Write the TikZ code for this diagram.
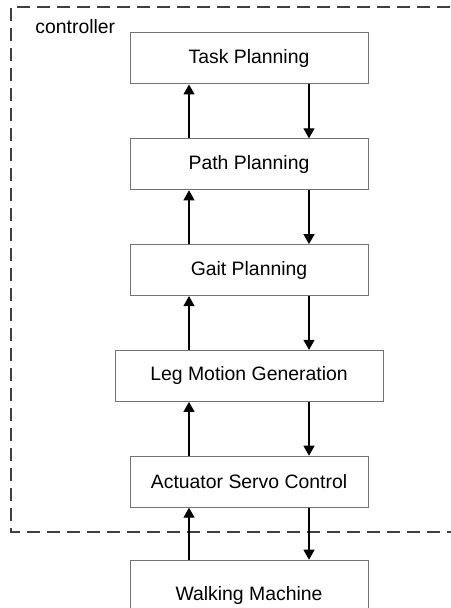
\documentclass[tikz,border=0pt]{standalone}
\usepackage{fontspec}
\setmainfont{Liberation Sans}
\usetikzlibrary{arrows.meta,positioning}
\tikzset{
  cbox/.style={draw=black!55, line width=0.5pt, align=center, minimum width=119pt, minimum height=25.5pt, inner sep=0pt, fill=white, font=\fontsize{9.7}{11}\selectfont},
  cboxwide/.style={cbox, minimum width=134pt},
  cboxtall/.style={cbox, minimum height=35pt},
  cnote/.style={font=\fontsize{9.7}{11}\selectfont, inner sep=0pt, anchor=west},
  carrow/.style={-{Triangle[length=5pt,width=5.5pt]}, line width=0.55pt, black},
  cframe/.style={line width=0.75pt, dash pattern=on 6.5pt off 3.5pt, black!75}
}

\begin{document}
\begin{tikzpicture}[x=0.5pt, y=-0.5pt]
\useasboundingbox (0,0) rectangle (450,608);
\node[cbox] (task) at (249,58.5) {Task Planning};
\node[cbox, below=26.9pt of task] (path) {Path Planning};
\node[cbox, below=26.9pt of path] (gait) {Gait Planning};
\node[cboxwide, below=26.9pt of gait] (leg) {Leg Motion Generation};
\node[cbox, below=26.9pt of leg] (servo) {Actuator Servo Control};
\node[cboxtall, below=26pt of servo] (machine) {Walking Machine};

% controller boundary
\coordinate (ftr) at (470,7);
\coordinate (ftl) at (11,7);
\coordinate (fbl) at (11,532);
\coordinate (fbr) at (470,532);
\draw[cframe] (ftr) -- (ftl) -- (fbl) -- (fbr);
\node[cnote] (ctrl) at (35,26.5) {controller};

\foreach \lo/\up in {path/task, gait/path, leg/gait, servo/leg, machine/servo} {
  \draw[carrow] ([xshift=-30pt]\lo.north) -- ([xshift=-30pt]\up.south);
  \draw[carrow] ([xshift=30pt]\up.south) -- ([xshift=30pt]\lo.north);
}
\end{tikzpicture}
\end{document}
